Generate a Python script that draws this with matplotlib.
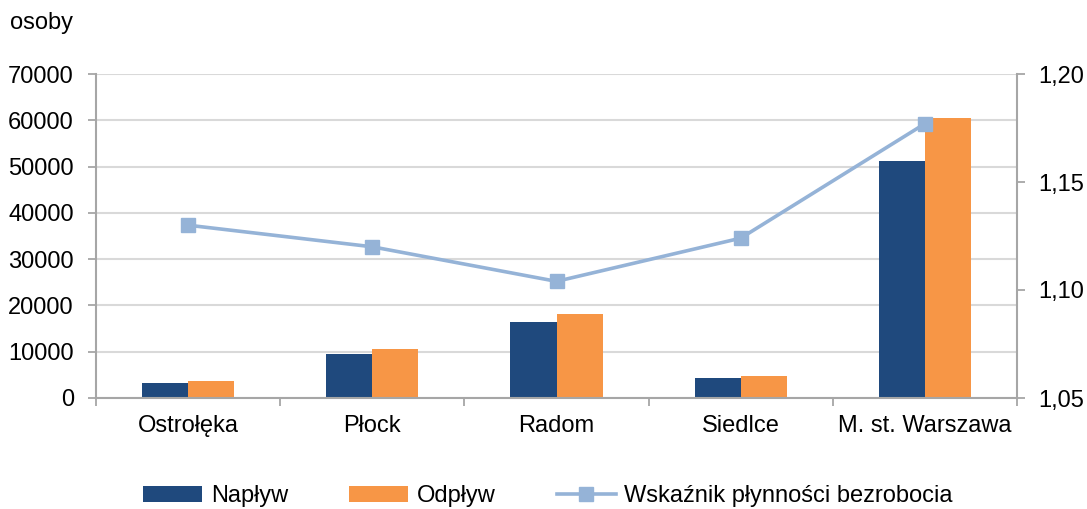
import matplotlib.pyplot as plt
from matplotlib.ticker import FuncFormatter, FixedLocator
import numpy as np

plt.rcParams['font.family'] = ['Liberation Sans', 'DejaVu Sans']

categories = ['Ostrołęka', 'Płock', 'Radom', 'Siedlce', 'M. st. Warszawa']
naplyw = [3240, 9450, 16370, 4320, 51240]
odplyw = [3680, 10530, 18100, 4840, 60410]
wskaznik = [1.130, 1.120, 1.104, 1.124, 1.177]

c_nap = '#1F497D'
c_odp = '#F79646'
c_line = '#95B3D7'
c_axis = '#A6A6A6'
c_grid = '#D9D9D9'
fs = 17

fig = plt.figure(figsize=(10.87, 5.09), dpi=100)
ax = fig.add_axes([96 / 1087, 1 - 398 / 509, (1017 - 96) / 1087, (398 - 74) / 509])

x = np.arange(len(categories))
w = 0.25
b1 = ax.bar(x - w / 2, naplyw, w, color=c_nap, label='Napływ', zorder=2)
b2 = ax.bar(x + w / 2, odplyw, w, color=c_odp, label='Odpływ', zorder=2)

ax.set_xlim(-0.5, len(categories) - 0.5)
ax.set_ylim(0, 70000)
ax.set_yticks(np.arange(0, 70001, 10000))
ax.yaxis.grid(True, color=c_grid, linewidth=1.5)
ax.set_axisbelow(True)

ax.xaxis.set_major_locator(FixedLocator(np.arange(-0.5, len(categories), 1)))
ax.xaxis.set_minor_locator(FixedLocator(x))
ax.set_xticklabels([])
ax.set_xticklabels(categories, minor=True)
ax.tick_params(axis='x', which='major', length=6, width=1.3, color=c_axis)
ax.tick_params(axis='x', which='minor', length=0, pad=12, labelsize=fs)
ax.tick_params(axis='y', length=6, width=1.3, color=c_axis, pad=10, labelsize=fs)

for s in ['top', 'right']:
    ax.spines[s].set_visible(False)
for s in ['left', 'bottom']:
    ax.spines[s].set_color(c_axis)
    ax.spines[s].set_linewidth(1.5)

ax2 = ax.twinx()
ln, = ax2.plot(x, wskaznik, color=c_line, linewidth=2.6, marker='s', markersize=10,
               label='Wskaźnik płynności bezrobocia')
ax2.set_ylim(1.05, 1.20)
ax2.set_yticks([1.05, 1.10, 1.15, 1.20])
ax2.yaxis.set_major_formatter(FuncFormatter(lambda v, p: f'{v:.2f}'.replace('.', ',')))
ax2.tick_params(axis='y', length=6, width=1.3, color=c_axis, pad=9, labelsize=fs)
for s in ['top', 'left', 'bottom']:
    ax2.spines[s].set_visible(False)
ax2.spines['right'].set_color(c_axis)
ax2.spines['right'].set_linewidth(1.5)

fig.text(10 / 1087, 1 - 23 / 509, 'osoby', fontsize=fs, va='center', ha='left')

fig.legend([b1, b2, ln], ['Napływ', 'Odpływ', 'Wskaźnik płynności bezrobocia'],
           loc='center', bbox_to_anchor=(0.504, 0.025), ncol=3, frameon=False,
           fontsize=fs, handlelength=2.5, handleheight=0.7, handletextpad=0.35,
           columnspacing=2.6)

fig.savefig('out.png', dpi=100)
